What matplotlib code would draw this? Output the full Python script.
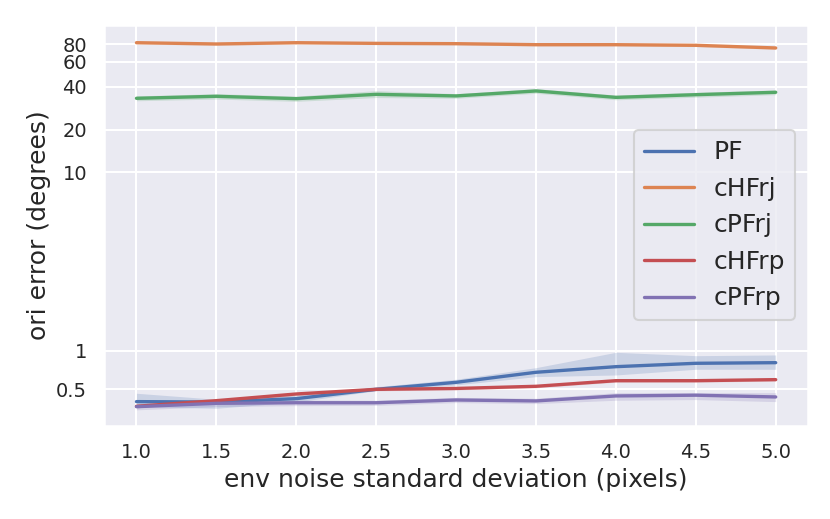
import numpy as np
import matplotlib
matplotlib.use("Agg")
import matplotlib.pyplot as plt
import seaborn as sns

sns.set_theme(style="darkgrid", context="talk")
plt.rcParams["xtick.labelsize"] = 14
plt.rcParams["ytick.labelsize"] = 14

noise_std = [1.0, 1.5, 2.0, 2.5, 3.0, 3.5, 4.0, 4.5, 5.0]

# mean ori error (degrees) and the band around it, per method
pf_mean = [0.400, 0.397, 0.422, 0.499, 0.566, 0.678, 0.750, 0.797, 0.806]
pf_lo = [0.365, 0.355, 0.397, 0.487, 0.540, 0.627, 0.646, 0.716, 0.716]
pf_hi = [0.465, 0.417, 0.450, 0.523, 0.598, 0.737, 0.971, 0.914, 0.926]

chfrj_mean = [81.8, 80.1, 81.8, 80.9, 80.5, 79.2, 79.2, 78.4, 75.1]
chfrj_lo = [80.0, 78.5, 80.0, 79.3, 78.9, 77.6, 77.6, 76.8, 73.5]
chfrj_hi = [83.5, 81.7, 83.5, 82.5, 82.1, 80.8, 80.8, 80.0, 76.7]

cpfrj_mean = [33.2, 34.3, 33.0, 35.4, 34.5, 37.4, 33.7, 35.2, 36.6]
cpfrj_lo = [31.9, 32.8, 31.6, 33.6, 33.2, 36.0, 32.4, 33.8, 35.2]
cpfrj_hi = [34.5, 35.8, 34.4, 37.6, 35.8, 38.8, 35.0, 36.6, 38.0]

chfrp_mean = [0.368, 0.407, 0.459, 0.499, 0.507, 0.527, 0.583, 0.583, 0.594]
chfrp_lo = [0.358, 0.396, 0.447, 0.486, 0.494, 0.513, 0.568, 0.568, 0.579]
chfrp_hi = [0.378, 0.418, 0.471, 0.512, 0.520, 0.541, 0.598, 0.598, 0.609]

cpfrp_mean = [0.365, 0.388, 0.392, 0.392, 0.412, 0.405, 0.443, 0.449, 0.435]
cpfrp_lo = [0.345, 0.366, 0.372, 0.374, 0.393, 0.386, 0.410, 0.415, 0.400]
cpfrp_hi = [0.385, 0.410, 0.412, 0.410, 0.432, 0.425, 0.470, 0.470, 0.470]

methods = ["PF", "cHFrj", "cPFrj", "cHFrp", "cPFrp"]
means = [pf_mean, chfrj_mean, cpfrj_mean, chfrp_mean, cpfrp_mean]
lows = [pf_lo, chfrj_lo, cpfrj_lo, chfrp_lo, cpfrp_lo]
highs = [pf_hi, chfrj_hi, cpfrj_hi, chfrp_hi, cpfrp_hi]

y_ticks = [0.5, 1, 10, 20, 40, 60, 80]
y_tick_labels = ["0.5", "1", "10", "20", "40", "60", "80"]


# piecewise log axis: the gap between 1 and 10 gets stretched
def fwd(y):
    y = np.asarray(y, dtype=float)
    l = np.log10(np.clip(y, 1e-9, None))
    return np.where(l <= 0, 128 * l, np.where(l <= 1, 178.4 * l, 178.4 + 142 * (l - 1)))


def inv(u):
    u = np.asarray(u, dtype=float)
    with np.errstate(over="ignore"):
        return np.where(u <= 0, 10 ** (u / 128),
                        np.where(u <= 178.4, 10 ** (u / 178.4), 10 ** (1 + (u - 178.4) / 142)))


colors = sns.color_palette("deep")

fig = plt.figure(figsize=(8.3, 5.19), dpi=100)
ax = fig.add_axes([0.1259, 0.1792, 0.8472, 0.7732])
for i, name in enumerate(methods):
    ax.plot(noise_std, means[i], color=colors[i], lw=2.4, label=name)
    ax.fill_between(noise_std, lows[i], highs[i], color=colors[i], alpha=0.2, lw=0)

ax.set_yscale("function", functions=(fwd, inv))
ax.set_ylim(0.258, 109.5)
ax.set_xlim(0.8, 5.2)
ax.set_yticks(y_ticks)
ax.set_yticklabels(y_tick_labels)
ax.minorticks_off()
ax.set_xlabel("env noise standard deviation (pixels)")
ax.set_ylabel("ori error (degrees)")
ax.legend(loc="center right", fontsize=18)

fig.savefig("out.png", dpi=100)
